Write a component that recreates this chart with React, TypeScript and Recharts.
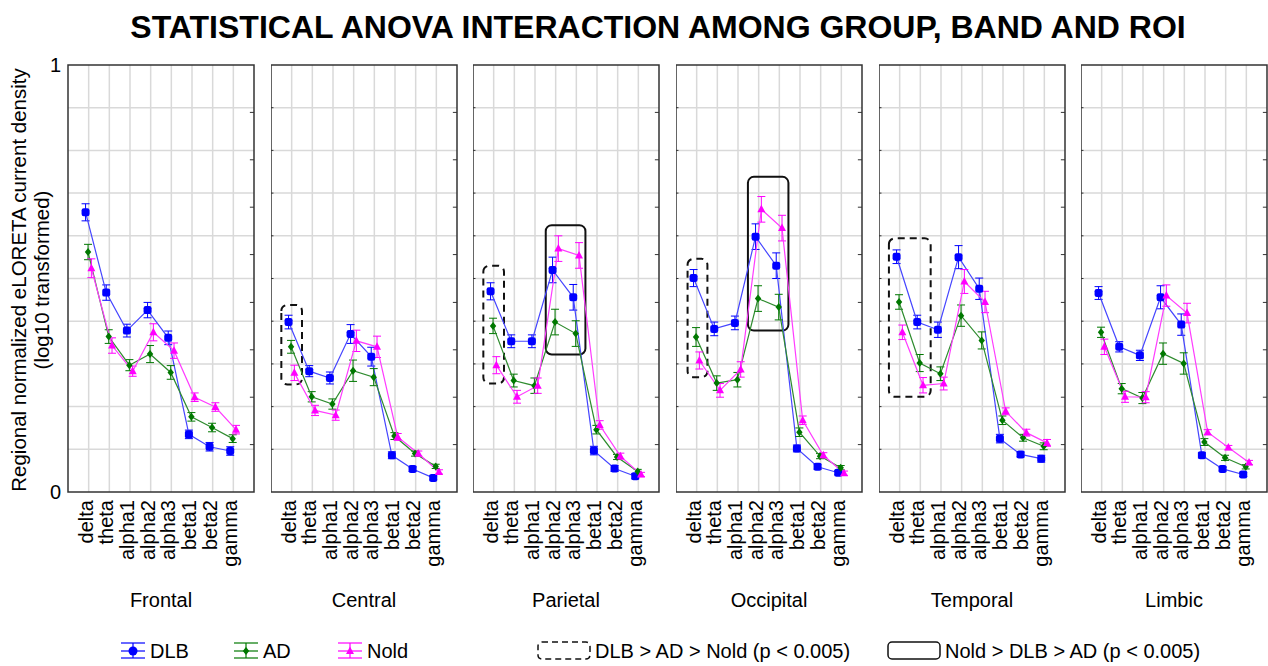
import React from "react";
import {
  CartesianGrid,
  ErrorBar,
  Line,
  LineChart,
  ReferenceArea,
  ReferenceLine,
  XAxis,
  YAxis,
} from "recharts";

const FONT = "'Liberation Sans', Arial, Helvetica, sans-serif";

const REGIONS = ["Frontal", "Central", "Parietal", "Occipital", "Temporal", "Limbic"];
const BANDS = ["delta", "theta", "alpha1", "alpha2", "alpha3", "beta1", "beta2", "gamma"];
const BAND_POS = [1, 2, 3, 4, 5, 6, 7, 8];

// group means, one row per region (band order as BANDS)
const DLB_MEAN = [
  [0.655, 0.467, 0.378, 0.426, 0.361, 0.135, 0.106, 0.096],
  [0.398, 0.283, 0.267, 0.37, 0.317, 0.086, 0.054, 0.033],
  [0.47, 0.353, 0.353, 0.52, 0.456, 0.097, 0.055, 0.037],
  [0.501, 0.382, 0.396, 0.598, 0.53, 0.102, 0.059, 0.045],
  [0.551, 0.398, 0.38, 0.55, 0.476, 0.125, 0.088, 0.078],
  [0.466, 0.34, 0.32, 0.456, 0.392, 0.086, 0.054, 0.041],
];
const AD_MEAN = [
  [0.562, 0.364, 0.297, 0.323, 0.28, 0.176, 0.151, 0.125],
  [0.34, 0.223, 0.206, 0.284, 0.269, 0.131, 0.09, 0.06],
  [0.389, 0.261, 0.249, 0.398, 0.371, 0.146, 0.082, 0.048],
  [0.363, 0.255, 0.263, 0.453, 0.433, 0.14, 0.084, 0.057],
  [0.445, 0.302, 0.277, 0.413, 0.355, 0.168, 0.127, 0.107],
  [0.374, 0.242, 0.22, 0.324, 0.301, 0.117, 0.08, 0.059],
];
const NOLD_MEAN = [
  [0.524, 0.343, 0.283, 0.374, 0.331, 0.222, 0.199, 0.146],
  [0.279, 0.191, 0.18, 0.354, 0.34, 0.129, 0.09, 0.047],
  [0.297, 0.223, 0.249, 0.57, 0.554, 0.157, 0.084, 0.041],
  [0.308, 0.238, 0.287, 0.662, 0.618, 0.168, 0.086, 0.044],
  [0.374, 0.25, 0.254, 0.493, 0.445, 0.189, 0.139, 0.115],
  [0.34, 0.223, 0.222, 0.46, 0.419, 0.14, 0.104, 0.069],
];

// standard errors
const DLB_SE = [
  [0.02, 0.018, 0.015, 0.018, 0.016, 0.01, 0.01, 0.01],
  [0.016, 0.013, 0.014, 0.022, 0.022, 0.008, 0.006, 0.005],
  [0.02, 0.015, 0.015, 0.03, 0.03, 0.01, 0.007, 0.006],
  [0.02, 0.016, 0.016, 0.03, 0.03, 0.008, 0.006, 0.005],
  [0.016, 0.016, 0.018, 0.027, 0.025, 0.01, 0.006, 0.008],
  [0.015, 0.012, 0.012, 0.027, 0.025, 0.006, 0.005, 0.005],
];
const AD_SE = [
  [0.018, 0.016, 0.013, 0.02, 0.016, 0.01, 0.01, 0.009],
  [0.015, 0.012, 0.012, 0.025, 0.02, 0.008, 0.006, 0.005],
  [0.018, 0.015, 0.018, 0.03, 0.03, 0.01, 0.006, 0.005],
  [0.022, 0.017, 0.017, 0.03, 0.03, 0.01, 0.006, 0.005],
  [0.017, 0.02, 0.016, 0.025, 0.02, 0.01, 0.008, 0.008],
  [0.012, 0.012, 0.013, 0.025, 0.025, 0.008, 0.006, 0.005],
];
const NOLD_SE = [
  [0.022, 0.018, 0.012, 0.02, 0.018, 0.01, 0.01, 0.01],
  [0.018, 0.012, 0.012, 0.025, 0.025, 0.008, 0.006, 0.005],
  [0.02, 0.015, 0.018, 0.03, 0.03, 0.01, 0.007, 0.005],
  [0.02, 0.016, 0.018, 0.03, 0.03, 0.01, 0.006, 0.005],
  [0.017, 0.018, 0.015, 0.028, 0.025, 0.008, 0.008, 0.008],
  [0.018, 0.013, 0.013, 0.025, 0.023, 0.006, 0.005, 0.005],
];

// significant contrasts: band span (x) and value span (y)
const DLB_AD_NOLD_BOXES = [
  { region: "Central", x1: 0.5, x2: 1.5, y1: 0.252, y2: 0.438 },
  { region: "Parietal", x1: 0.5, x2: 1.5, y1: 0.254, y2: 0.53 },
  { region: "Occipital", x1: 0.56, x2: 1.52, y1: 0.269, y2: 0.546 },
  { region: "Temporal", x1: 0.48, x2: 2.5, y1: 0.223, y2: 0.594 },
];
const NOLD_DLB_AD_BOXES = [
  { region: "Parietal", x1: 3.52, x2: 5.44, y1: 0.322, y2: 0.625 },
  { region: "Occipital", x1: 3.48, x2: 5.44, y1: 0.378, y2: 0.738 },
];

const GRID_Y = [0.1, 0.2, 0.3, 0.4, 0.5, 0.6, 0.7, 0.8, 0.9];
const RIGHT_TICKS = [0.111, 0.222, 0.333, 0.444, 0.556, 0.667, 0.778, 0.889];

const PANEL_LEFT = [68, 271, 473, 676, 879, 1081];
const PANEL_W = 186;
const PLOT_TOP = 65;
const PLOT_BOTTOM = 492;
const CHART_H = 570;

const GROUPS = [
  { name: "DLB", mean: DLB_MEAN, se: DLB_SE, shift: -0.15, color: "#0000ff", line: "#4545ff", shape: "square" },
  { name: "AD", mean: AD_MEAN, se: AD_SE, shift: -0.03, color: "#007800", line: "#2e8b2e", shape: "diamond" },
  { name: "Nold", mean: NOLD_MEAN, se: NOLD_SE, shift: 0.13, color: "#ff00ff", line: "#ff3cff", shape: "triangle" },
];

function marker(shape: string, cx: number, cy: number, color: string, key?: any) {
  if (shape === "square") {
    return <rect key={key} x={cx - 4} y={cy - 4} width={8} height={8} rx={2.2} fill={color} />;
  }
  if (shape === "diamond") {
    return (
      <polygon
        key={key}
        points={`${cx},${cy - 4} ${cx + 3.2},${cy} ${cx},${cy + 4} ${cx - 3.2},${cy}`}
        fill={color}
      />
    );
  }
  return (
    <polygon
      key={key}
      points={`${cx},${cy - 4.5} ${cx + 4},${cy + 3} ${cx - 4},${cy + 3}`}
      fill={color}
    />
  );
}

function BandTick(props: any) {
  const { x, y, payload } = props;
  return (
    <text
      transform={`translate(${x},${y + 8}) rotate(-90)`}
      dy={4}
      textAnchor="end"
      fontSize={20}
      fontFamily={FONT}
      fill="#000"
    >
      {BANDS[payload.value - 1]}
    </text>
  );
}

function Panel({ idx }: { idx: number }) {
  const showY = idx === 0;
  const yw = showY ? 30 : 0;
  const region = REGIONS[idx];

  return (
    <div style={{ position: "absolute", left: PANEL_LEFT[idx] - yw, top: 0 }}>
      <LineChart
        width={PANEL_W + yw + 2}
        height={CHART_H}
        margin={{ top: PLOT_TOP, right: 2, bottom: 0, left: 0 }}
      >
        <CartesianGrid
          stroke="#d9d9d9"
          strokeWidth={1.5}
          horizontalValues={GRID_Y}
          verticalValues={BAND_POS}
        />
        <XAxis
          type="number"
          dataKey="x"
          domain={[0, 9]}
          ticks={BAND_POS}
          interval={0}
          axisLine={false}
          tickLine={false}
          tickSize={0}
          tickMargin={0}
          height={CHART_H - PLOT_BOTTOM}
          tick={(p: any) => <BandTick {...p} />}
        />
        <YAxis
          type="number"
          domain={[0, 1]}
          ticks={[0, 1]}
          hide={!showY}
          width={yw}
          axisLine={false}
          tickLine={false}
          tickSize={0}
          tickMargin={7}
          tick={{ fontSize: 20, fill: "#000", fontFamily: FONT }}
        />
        <ReferenceArea x1={0} x2={9} y1={0} y2={1} fill="none" stroke="#333" strokeWidth={1.5} />
        {RIGHT_TICKS.map((v) => (
          <ReferenceLine
            key={`r${v}`}
            segment={[{ x: 9, y: v }, { x: 8.8, y: v }]}
            stroke="#333"
            strokeWidth={1}
          />
        ))}
        {!showY &&
          GRID_Y.map((v) => (
            <ReferenceLine
              key={`l${v}`}
              segment={[{ x: 0, y: v }, { x: 0.12, y: v }]}
              stroke="#333"
              strokeWidth={1}
            />
          ))}
        {DLB_AD_NOLD_BOXES.filter((b) => b.region === region).map((b) => (
          <ReferenceArea
            key={`d${b.x1}`}
            x1={b.x1}
            x2={b.x2}
            y1={b.y1}
            y2={b.y2}
            fill="none"
            stroke="#111"
            strokeWidth={2}
            strokeDasharray="7 5"
            radius={6}
          />
        ))}
        {NOLD_DLB_AD_BOXES.filter((b) => b.region === region).map((b) => (
          <ReferenceArea
            key={`s${b.x1}`}
            x1={b.x1}
            x2={b.x2}
            y1={b.y1}
            y2={b.y2}
            fill="none"
            stroke="#111"
            strokeWidth={2}
            radius={6}
          />
        ))}
        {GROUPS.map((g) => (
          <Line
            key={g.name}
            data={g.mean[idx].map((m, i) => ({ x: BAND_POS[i] + g.shift, y: m, err: g.se[idx][i] }))}
            dataKey="y"
            type="linear"
            stroke={g.line}
            strokeWidth={1.2}
            isAnimationActive={false}
            dot={(p: any) => marker(g.shape, p.cx, p.cy, g.color, p.key ?? p.index)}
            activeDot={false}
          >
            <ErrorBar
              dataKey="err"
              direction="y"
              width={4}
              stroke={g.color}
              strokeWidth={1}
              isAnimationActive={false}
            />
          </Line>
        ))}
      </LineChart>
    </div>
  );
}

function LegendIcon({ x, color, shape }: { x: number; color: string; shape: string }) {
  const cy = 651;
  return (
    <g stroke={color} strokeWidth={1.2}>
      <line x1={x} x2={x + 24} y1={643} y2={643} />
      <line x1={x} x2={x + 24} y1={cy} y2={cy} />
      <line x1={x} x2={x + 24} y1={658} y2={658} />
      <line x1={x + 12} x2={x + 12} y1={643} y2={658} />
      <g stroke="none">
        {shape === "square" ? (
          <circle cx={x + 12} cy={cy} r={4.5} fill={color} />
        ) : (
          marker(shape, x + 12, cy, color)
        )}
      </g>
    </g>
  );
}

const LEGEND_X = [121, 234, 338];

export default function App() {
  return (
    <div
      style={{
        position: "absolute",
        left: 0,
        top: 0,
        width: 1268,
        height: 666,
        overflow: "hidden",
        background: "#fff",
        fontFamily: FONT,
      }}
    >
      {REGIONS.map((r, i) => (
        <Panel key={r} idx={i} />
      ))}
      <svg
        width={1268}
        height={666}
        style={{ position: "absolute", left: 0, top: 0, pointerEvents: "none" }}
        fontFamily={FONT}
      >
        <text x={658} y={38} textAnchor="middle" fontSize={32} fontWeight="bold" fill="#000">
          STATISTICAL ANOVA INTERACTION AMONG GROUP, BAND AND ROI
        </text>
        <text transform="translate(26,280) rotate(-90)" textAnchor="middle" fontSize={20.5} fill="#000">
          Regional normalized eLORETA current density
        </text>
        <text transform="translate(49,280) rotate(-90)" textAnchor="middle" fontSize={20.5} fill="#000">
          (log10 transformed)
        </text>
        {REGIONS.map((r, i) => (
          <text key={r} x={PANEL_LEFT[i] + PANEL_W / 2} y={607} textAnchor="middle" fontSize={20} fill="#000">
            {r}
          </text>
        ))}
        {GROUPS.map((g, i) => (
          <g key={g.name}>
            <LegendIcon x={LEGEND_X[i]} color={g.color} shape={g.shape} />
            <text x={LEGEND_X[i] + 29} y={651} dominantBaseline="central" fontSize={20} fill="#000">
              {g.name}
            </text>
          </g>
        ))}
        <rect x={538} y={642} width={52} height={17} rx={4} fill="none" stroke="#111" strokeWidth={1.5} strokeDasharray="6 4" />
        <text x={595} y={651} dominantBaseline="central" fontSize={20} fill="#000">
          {"DLB > AD > Nold (p < 0.005)"}
        </text>
        <rect x={888} y={642} width={52} height={17} rx={4} fill="none" stroke="#111" strokeWidth={1.5} />
        <text x={945} y={651} dominantBaseline="central" fontSize={20} fill="#000">
          {"Nold > DLB > AD (p < 0.005)"}
        </text>
      </svg>
    </div>
  );
}
